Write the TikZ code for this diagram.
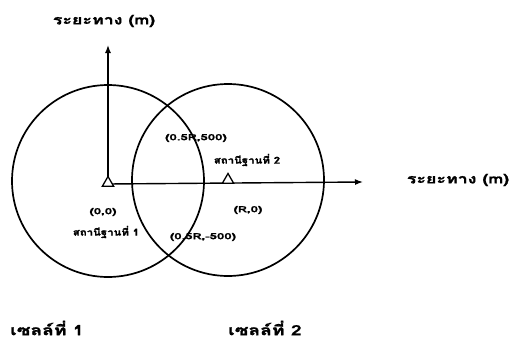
\documentclass[tikz,border=0pt]{standalone}
\usepackage{fontspec}
\newfontfamily\thaiwide[Script=Thai,FakeStretch=1.37,FakeBold=1.5]{Loma}
\newfontfamily\thaimid[Script=Thai,FakeStretch=1.2,FakeBold=1.8]{Loma}
\newfontfamily\latinwide[Script=Thai,FakeStretch=1.55,FakeBold=1.5]{Loma}
\usetikzlibrary{shapes.geometric,arrows.meta}
\begin{document}
\begin{tikzpicture}[x=1pt,y=-1pt,
  cell/.style={draw, line width=1.7pt, circle, minimum size=192pt, inner sep=0pt},
  axis/.style={line width=1.4pt, -{Latex[length=8pt,width=6pt]}},
  bs/.style={draw, line width=1.3pt, regular polygon, regular polygon sides=3, minimum size=13pt, inner sep=0pt, fill=white},
  biglbl/.style={font=\thaiwide\bfseries\fontsize{13}{15}\selectfont, inner sep=0pt},
  celllbl/.style={font=\thaiwide\bfseries\fontsize{14}{16}\selectfont, inner sep=0pt},
  thailbl/.style={font=\thaimid\bfseries\fontsize{9.5}{10}\selectfont, inner sep=0pt},
  coordlbl/.style={font=\latinwide\bfseries\fontsize{8.5}{9}\selectfont, inner sep=0pt}]
\useasboundingbox (0,0) rectangle (509,348);
\node[cell] (c1) at (108,181) {};
\node[cell] (c2) at (228,180) {};
\coordinate (o) at (108,184);
\coordinate (ytip) at (108,45);
\coordinate (xtip) at (363,182);
\draw[axis] (o) -- (ytip);
\draw[axis] (o) -- (xtip);
\node[bs] (b1) at (108,183) {};
\node[bs] (b2) at (228,180) {};
\node[biglbl] (ylbl) at (104,21) {ระยะทาง (m)};
\node[biglbl] (xlbl) at (458,180) {ระยะทาง (m)};
\node[coordlbl] (p1) at (196,138) {(0.5R,500)};
\node[thailbl] (s2) at (247,160) {สถานีฐานที่ 2};
\node[coordlbl] (r0) at (248,210) {(R,0)};
\node[coordlbl] (o0) at (103,212) {(0,0)};
\node[thailbl] (s1) at (106,232) {สถานีฐานที่ 1};
\node[coordlbl] (p2) at (203,237) {(0.5R,-500)};
\node[celllbl] (cell1) at (47,328) {เซลล์ที่ 1};
\node[celllbl] (cell2) at (265,328) {เซลล์ที่ 2};
\end{tikzpicture}
\end{document}
